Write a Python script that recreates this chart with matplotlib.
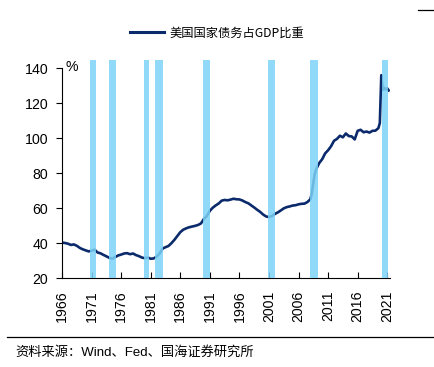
import numpy as np
import matplotlib
matplotlib.use("Agg")
import matplotlib.pyplot as plt
from matplotlib.lines import Line2D

plt.rcParams['font.family'] = ['Noto Sans CJK SC', 'DejaVu Sans']

# 美国国家债务占GDP比重 (%)
years = [1966.0, 1966.5, 1967.0, 1967.5, 1968.0, 1968.5, 1969.0, 1969.5, 1970.0, 1970.5,
         1971.0, 1971.5, 1972.0, 1972.5, 1973.0, 1973.5, 1974.0, 1974.5, 1975.0, 1975.5,
         1976.0, 1976.5, 1977.0, 1977.5, 1978.0, 1978.5, 1979.0, 1979.5, 1980.0, 1980.5,
         1981.0, 1981.5, 1982.0, 1982.5, 1983.0, 1983.5, 1984.0, 1984.5, 1985.0, 1985.5,
         1986.0, 1986.5, 1987.0, 1987.5, 1988.0, 1988.5, 1989.0, 1989.5, 1990.0, 1990.5,
         1991.0, 1991.5, 1992.0, 1992.5, 1993.0, 1993.5, 1994.0, 1994.5, 1995.0, 1995.5,
         1996.0, 1996.5, 1997.0, 1997.5, 1998.0, 1998.5, 1999.0, 1999.5, 2000.0, 2000.5,
         2001.0, 2001.5, 2002.0, 2002.5, 2003.0, 2003.5, 2004.0, 2004.5, 2005.0, 2005.5,
         2006.0, 2006.5, 2007.0, 2007.5, 2008.0, 2008.25, 2008.5, 2008.75, 2009.0, 2009.5,
         2010.0, 2010.5, 2011.0, 2011.5, 2012.0, 2012.5, 2013.0, 2013.5, 2014.0, 2014.5,
         2015.0, 2015.5, 2016.0, 2016.5, 2017.0, 2017.5, 2018.0, 2018.5, 2019.0, 2019.5,
         2019.75, 2020.0, 2020.25, 2020.5, 2020.75, 2021.0, 2021.25]
debt_gdp = [40.3, 40.0, 39.6, 38.9, 39.2, 38.4, 37.2, 36.4, 35.8, 35.2,
            35.6, 36.2, 34.6, 34.1, 33.2, 32.4, 31.5, 31.0, 32.0, 32.9,
            33.4, 34.0, 34.2, 33.6, 34.0, 33.1, 32.5, 31.7, 31.3, 31.7,
            31.0, 31.2, 32.2, 34.0, 36.8, 37.6, 38.3, 39.9, 41.8, 44.0,
            46.2, 47.6, 48.4, 49.0, 49.4, 49.8, 50.3, 51.2, 53.8, 55.5,
            58.4, 60.2, 61.5, 62.6, 64.2, 64.6, 64.4, 64.8, 65.3, 65.0,
            64.9, 64.3, 63.4, 62.7, 61.5, 60.3, 59.0, 57.8, 56.3, 55.2,
            54.8, 55.4, 56.6, 57.5, 58.6, 59.8, 60.5, 60.9, 61.4, 61.6,
            62.1, 62.4, 62.5, 63.4, 65.0, 68.5, 74.5, 79.5, 82.3, 85.7,
            87.9, 91.2, 93.0, 95.3, 98.4, 99.5, 101.3, 100.4, 102.6, 101.1,
            100.9, 99.2, 104.1, 104.7, 103.3, 103.7, 103.1, 104.1, 104.2, 105.6,
            108.5, 135.9, 127.5, 128.7, 127.7, 128.4, 127.2]

# recession shading (start, end)
rec_start = [1970.8, 1974.0, 1979.8, 1981.7, 1989.9, 2000.9, 2008.0, 2020.1]
rec_end = [1971.7, 1975.2, 1980.7, 1983.1, 1991.1, 2002.0, 2009.3, 2021.1]

xticks = list(range(1966, 2022, 5))

fig = plt.figure(figsize=(4.34, 3.67), dpi=100)
ax = fig.add_axes([0.143, 0.2425, 0.756, 0.596])

line_color = '#0b2a6b'
bar_color = '#7dd3f7'

ax.plot(years, debt_gdp, color=line_color, lw=1.9, zorder=2)
for s, e in zip(rec_start, rec_end):
    ax.axvspan(s, e, ymin=0, ymax=0.995, color=bar_color, alpha=0.85, lw=0, zorder=3)

ax.set_xlim(1966, 2021.5)
ax.set_ylim(20, 145)
ax.set_yticks([20, 40, 60, 80, 100, 120, 140])
ax.set_xticks(xticks)
ax.set_xticklabels([str(y) for y in xticks])
ax.tick_params(axis='y', direction='out', length=4, labelsize=10.2, width=0.8, pad=6)
ax.tick_params(axis='x', direction='in', length=4, labelsize=10.2, width=0.8, pad=9,
               labelrotation=90)
for lbl in ax.get_xticklabels() + ax.get_yticklabels():
    lbl.set_family('Liberation Sans')
ax.spines['top'].set_visible(False)
ax.spines['right'].set_visible(False)
ax.spines['left'].set_bounds(20, 140)
ax.text(1966.6, 140.5, '%', fontsize=10.2, family='Liberation Sans', va='center', ha='left')

handle = Line2D([], [], color=line_color, lw=2.2)
fig.legend([handle], ['美国国家债务占GDP比重'], loc='center', bbox_to_anchor=(0.5, 0.91),
           frameon=False, fontsize=8.8, handlelength=2.8, handletextpad=0.4)

fig.add_artist(Line2D([0.016, 1.0], [0.082, 0.082], color='black', lw=0.9))
fig.add_artist(Line2D([0.962, 1.0], [0.972, 0.972], color='black', lw=0.9))
fig.text(0.035, 0.04, '资料来源：Wind、Fed、国海证券研究所', fontsize=9.5, va='center',
         family=['Liberation Sans', 'Noto Sans CJK SC'])

fig.savefig('out.png', dpi=100)
